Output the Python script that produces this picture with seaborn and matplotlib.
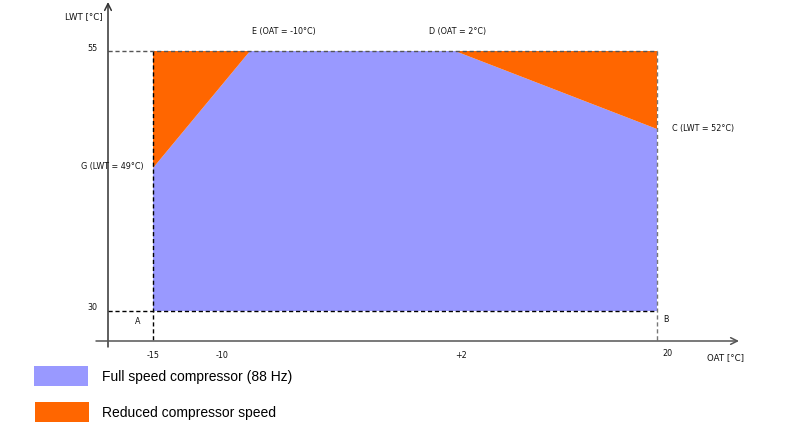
import numpy as np
import pandas as pd
import matplotlib
matplotlib.use("Agg")
import matplotlib.pyplot as plt
import seaborn as sns
from matplotlib.patches import Rectangle

# ---------------- data ----------------
oat_tick_labels = ["-15", "-10", "+2", "20"]
lwt_tick_labels = ["55", "30"]
# operating envelope (OAT [°C], LWT [°C])
full_oat = [-15, 20, 20, 2, -10, -15]
full_lwt = [30, 30, 52, 55, 55, 49]
red_left_oat = [-15, -15, -10]
red_left_lwt = [49, 55, 55]
red_right_oat = [2, 20, 20]
red_right_lwt = [55, 55, 52]
legend_labels = ["Full speed compressor (88 Hz)", "Reduced compressor speed"]

BLUE = "#9999FF"
ORANGE = "#FF6600"

# schematic (non-proportional) axis scales, as in the original diagram
x_knots = np.array([-40.0, -15.0, -10.0, 2.0, 20.0, 45.0])
x_px = np.array([-207.0, 153.0, 250.0, 455.0, 657.0, 1017.0])
y_knots = np.array([0.0, 30.0, 49.0, 52.0, 55.0, 75.0])
y_px = np.array([623.0, 311.0, 168.0, 129.0, 51.0, -157.0])


def fx(x):
    return np.interp(x, x_knots, x_px)


def fxi(v):
    return np.interp(v, x_px, x_knots)


def fy(y):
    return -np.interp(y, y_knots, y_px)


def fyi(v):
    return np.interp(-v, y_px[::-1], y_knots[::-1])


def P(px, py):
    return float(fxi(px)), float(fyi(-py))


sns.set_style("white")
plt.rcParams["font.family"] = ["DejaVu Sans"]

W, H = 787, 426
fig = plt.figure(figsize=(W / 100, H / 100), dpi=100)
ax = fig.add_axes([0, 0, 1, 1])
ax.set_xscale("function", functions=(fx, fxi))
ax.set_yscale("function", functions=(fy, fyi))
ax.set_xlim(fxi(0), fxi(W))
ax.set_ylim(fyi(-H), fyi(0))

# regions
ax.fill(full_oat, full_lwt, color=BLUE, lw=0, zorder=1)
ax.fill(red_left_oat, red_left_lwt, color=ORANGE, lw=0, zorder=1)
ax.fill(red_right_oat, red_right_lwt, color=ORANGE, lw=0, zorder=1)

# dashed guide lines
x_axis_oat = P(108, 0)[0]
x_axis_lwt = P(0, 342)[1]
lines = pd.DataFrame({
    "oat": [x_axis_oat, 20, x_axis_oat, 20, -15, -15, 20, 20],
    "lwt": [55, 55, 30, 30, 55, x_axis_lwt, 55, x_axis_lwt],
    "seg": ["top", "top", "bot", "bot", "left", "left", "right", "right"],
})
seg_colors = {"top": "#555555", "bot": "#000000", "left": "#000000", "right": "#777777"}
for seg, d in lines.groupby("seg"):
    sns.lineplot(data=d, x="oat", y="lwt", ax=ax, sort=False, estimator=None,
                 color=seg_colors[seg], lw=1.0, linestyle=(0, (3, 2)), zorder=2)
ax.set_xlim(fxi(0), fxi(W))
ax.set_ylim(fyi(-H), fyi(0))
ax.set_axis_off()

# axes with arrows
ax.annotate("", xy=P(108, 2), xytext=P(108, 347),
            arrowprops=dict(arrowstyle="->", color="#333333", lw=1.1,
                            shrinkA=0, shrinkB=0, mutation_scale=12))
ax.annotate("", xy=P(739, 341), xytext=P(96, 341),
            arrowprops=dict(arrowstyle="->", color="#555555", lw=1.1,
                            shrinkA=0, shrinkB=0, mutation_scale=12))

fs = 5.8
tc = "#111111"
ax.text(*P(103, 17), "LWT [°C]", ha="right", va="center", fontsize=fs + 0.4, color=tc)
ax.text(*P(707, 358), "OAT [°C]", ha="left", va="center", fontsize=fs + 0.4, color=tc)
ax.text(*P(92, 48), lwt_tick_labels[0], ha="center", va="center", fontsize=fs, color=tc)
ax.text(*P(92, 308), lwt_tick_labels[1], ha="center", va="center", fontsize=fs, color=tc)
for lab, px in zip(oat_tick_labels, [153, 222, 461, 667]):
    ax.text(*P(px, 355 if lab != "20" else 353), lab, ha="center", va="center",
            fontsize=fs, color=tc)

ax.text(*P(252, 31), "E (OAT = -10°C)", ha="left", va="center", fontsize=fs, color=tc)
ax.text(*P(429, 31), "D (OAT = 2°C)", ha="left", va="center", fontsize=fs, color=tc)
ax.text(*P(672, 129), "C (LWT = 52°C)", ha="left", va="center", fontsize=fs, color=tc)
ax.text(*P(81, 167), "G (LWT = 49°C)", ha="left", va="center", fontsize=fs, color=tc)
ax.text(*P(138, 322), "A", ha="center", va="center", fontsize=fs, color=tc)
ax.text(*P(666, 320), "B", ha="center", va="center", fontsize=fs, color=tc)

# legend (drawn as figure patches + text)
for (color, label, top, left) in [(BLUE, legend_labels[0], 366, 34),
                                   (ORANGE, legend_labels[1], 402, 35)]:
    fig.patches.append(Rectangle((left / W, 1 - (top + 20) / H), 54 / W, 20 / H,
                                 transform=fig.transFigure, facecolor=color,
                                 edgecolor="none"))
    fig.text(102 / W, 1 - (top + 11) / H, label, ha="left", va="center",
             fontsize=10, family="Liberation Sans", color="#000000")

fig.savefig("out.png", dpi=100)
